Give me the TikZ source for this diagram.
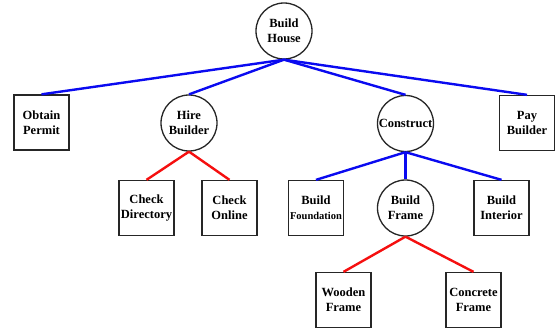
\documentclass[tikz,border=0pt]{standalone}
\usepackage{fontspec}
\setmainfont{Liberation Serif}
\begin{document}
\begin{tikzpicture}[x=1pt,y=1pt,
  every node/.style={font=\bfseries\fontsize{12.5}{15}\selectfont, align=center, inner sep=0pt, fill=white},
  boxnode/.style={draw=black!85, line width=1.3pt, minimum width=55pt, minimum height=55pt},
  circnode/.style={draw=black!85, line width=1.3pt, circle, minimum size=56pt},
  blueline/.style={draw={rgb,255:red,10;green,10;blue,240}, line width=2.4pt},
  redline/.style={draw={rgb,255:red,245;green,15;blue,15}, line width=2.4pt}]
\useasboundingbox (0,0) rectangle (557,333);
\node[circnode] (house) at (284,302) {Build\\House};
\node[boxnode] (permit) at (41.5,210.5) {Obtain\\Permit};
\node[circnode] (hire) at (189,210) {Hire\\Builder};
\node[circnode] (construct) at (405.5,209.5) {Construct};
\node[boxnode] (pay) at (527,210) {Pay\\Builder};
\node[boxnode] (dir) at (146.5,125) {Check\\Directory};
\node[boxnode] (online) at (229.5,125) {Check\\Online};
\node[boxnode] (found) at (316,125) {Build\\{\fontsize{10.5}{15}\selectfont Foundation}};
\node[circnode] (frame) at (405.5,125) {Build\\Frame};
\node[boxnode] (interior) at (501.5,125) {Build\\Interior};
\node[boxnode] (wooden) at (343.5,33) {Wooden\\Frame};
\node[boxnode] (concrete) at (473.5,33) {Concrete\\Frame};
\begin{scope}[on background layer/.style={}]
\draw[blueline] (house.south) -- (permit.north);
\draw[blueline] (house.south) -- (hire.north);
\draw[blueline] (house.south) -- (construct.north);
\draw[blueline] (house.south) -- (pay.north);
\draw[redline] (hire.south) -- (dir.north);
\draw[redline] (hire.south) -- (online.north);
\draw[blueline] (construct.south) -- (found.north);
\draw[blueline] (construct.south) -- (frame.north);
\draw[blueline] (construct.south) -- (interior.north);
\draw[redline] (frame.south) -- (wooden.north);
\draw[redline] (frame.south) -- (concrete.north);
\end{scope}
\end{tikzpicture}
\end{document}
